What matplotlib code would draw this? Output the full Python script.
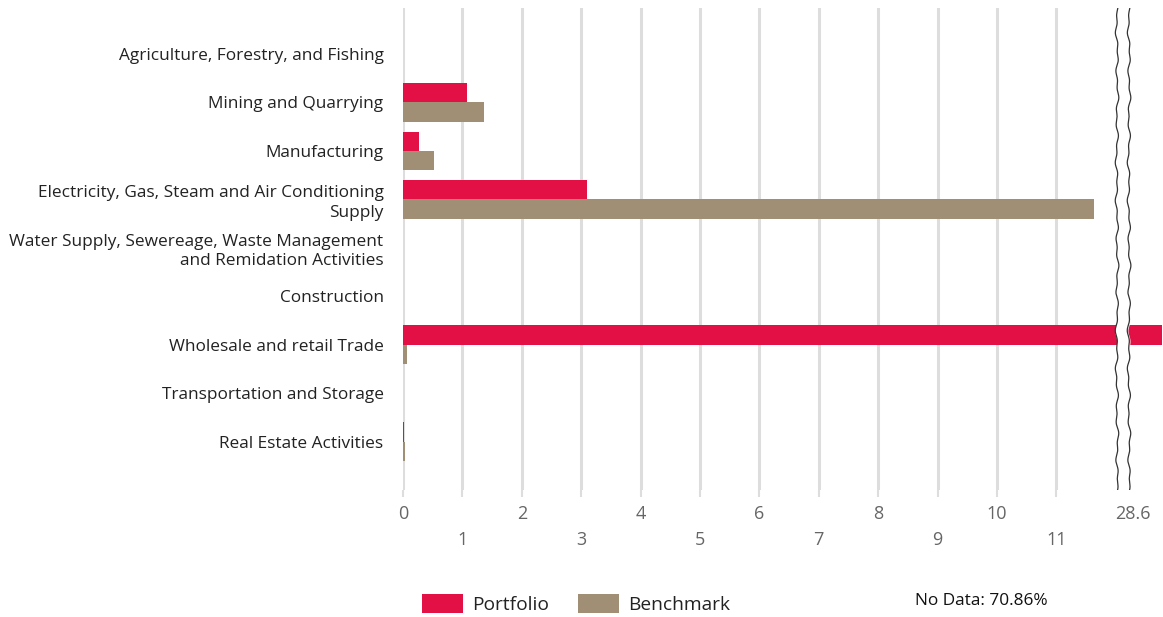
import numpy as np
import matplotlib
matplotlib.use('Agg')
import matplotlib.pyplot as plt
from matplotlib.patches import Patch
from matplotlib.transforms import ScaledTranslation, blended_transform_factory

plt.rcParams['font.family'] = ['Open Sans', 'DejaVu Sans']

# dados
setores = ['Agriculture, Forestry, and Fishing',
           'Mining and Quarrying',
           'Manufacturing',
           'Electricity, Gas, Steam and Air Conditioning\nSupply',
           'Water Supply, Sewereage, Waste Management\nand Remidation Activities',
           'Construction',
           'Wholesale and retail Trade',
           'Transportation and Storage',
           'Real Estate Activities']
portfolio = [0.0, 1.08, 0.27, 3.1, 0.0, 0.0, 28.6, 0.0, 0.02]
benchmark = [0.0, 1.37, 0.52, 11.63, 0.0, 0.0, 0.07, 0.0, 0.03]
ticks = [0, 1, 2, 3, 4, 5, 6, 7, 8, 9, 10, 11, 28.6]
tick_labels = ['0', '1', '2', '3', '4', '5', '6', '7', '8', '9', '10', '11', '28.6']
sem_dados = 'No Data: 70.86%'

cor_port = '#E31045'
cor_bench = '#A08F74'

# escala com quebra depois de 12
quebra = 12.0
fator = 0.78 / (28.6 - quebra)

def ida(v):
    v = np.asarray(v, dtype=float)
    return np.where(v <= quebra, v, quebra + (v - quebra) * fator)

def volta(v):
    v = np.asarray(v, dtype=float)
    return np.where(v <= quebra, v, quebra + (v - quebra) / fator)

fig = plt.figure(figsize=(11.63, 6.17), dpi=100)
ax = fig.add_axes([403 / 1163, 1 - 490 / 617, 759 / 1163, 482 / 617])
ax.set_xscale('function', functions=(ida, volta))

y = np.arange(len(setores))
h = 0.4
ax.barh(y - h / 2, portfolio, height=h, color=cor_port, linewidth=0, zorder=3)
ax.barh(y + h / 2, benchmark, height=h, color=cor_bench, linewidth=0, zorder=3)

ax.set_xlim(0, 28.6)
ax.set_ylim(9.0, -0.95)
ax.set_yticks(y)
ax.set_yticklabels(setores, fontsize=12.4, color='#222222', linespacing=1.3)
ax.tick_params(axis='y', length=0, pad=14)

# rótulos do eixo x em duas linhas alternadas
labels = [t if (i % 2 == 0 or i == len(tick_labels) - 1) else '\n' + t
          for i, t in enumerate(tick_labels)]
ax.set_xticks(ticks)
ax.set_xticklabels(labels, fontsize=13, color='#666666', linespacing=1.55)
ax.tick_params(axis='x', length=5, color='#dddddd', width=1.5, pad=6)
ax.xaxis.grid(True, color='#dddddd', linewidth=2.2, zorder=0)
ax.get_xgridlines()[-1].set_visible(False)
ax.xaxis.get_major_ticks()[-1].tick1line.set_visible(False)
lbl = ax.get_xticklabels()[-1]
lbl.set_transform(lbl.get_transform() + ScaledTranslation(-0.29, 0, fig.dpi_scale_trans))

for s in ax.spines.values():
    s.set_visible(False)

# marca da quebra (linhas onduladas)
trans = blended_transform_factory(ax.transAxes, ax.transAxes)
yy = np.linspace(0, 1, 600)
onda = 0.0011 * np.sin(yy * 71) + 0.0009 * np.sin(yy * 163 + 1.0) + 0.0005 * np.sin(yy * 17)
x1 = 714 / 759 + onda
x2 = 726 / 759 + onda
ax.fill_betweenx(yy, x1, x2, color='white', transform=trans, zorder=4)
ax.plot(x1, yy, color='#333333', linewidth=0.9, transform=trans, zorder=5)
ax.plot(x2, yy, color='#333333', linewidth=0.9, transform=trans, zorder=5)

# legenda
handles = [Patch(facecolor=cor_port, label='Portfolio'),
           Patch(facecolor=cor_bench, label='Benchmark')]
fig.legend(handles=handles, loc='center left', bbox_to_anchor=(405 / 1163, 1 - 604 / 617),
           ncol=2, frameon=False, fontsize=13.8, handlelength=2.15, handleheight=1.15,
           columnspacing=1.5, handletextpad=0.47, labelcolor='#222222')
fig.text(1048 / 1163, 1 - 601 / 617, sem_dados, ha='right', va='center', fontsize=12.4, color='#111111')

plt.savefig('out.png', dpi=100)
plt.close()
